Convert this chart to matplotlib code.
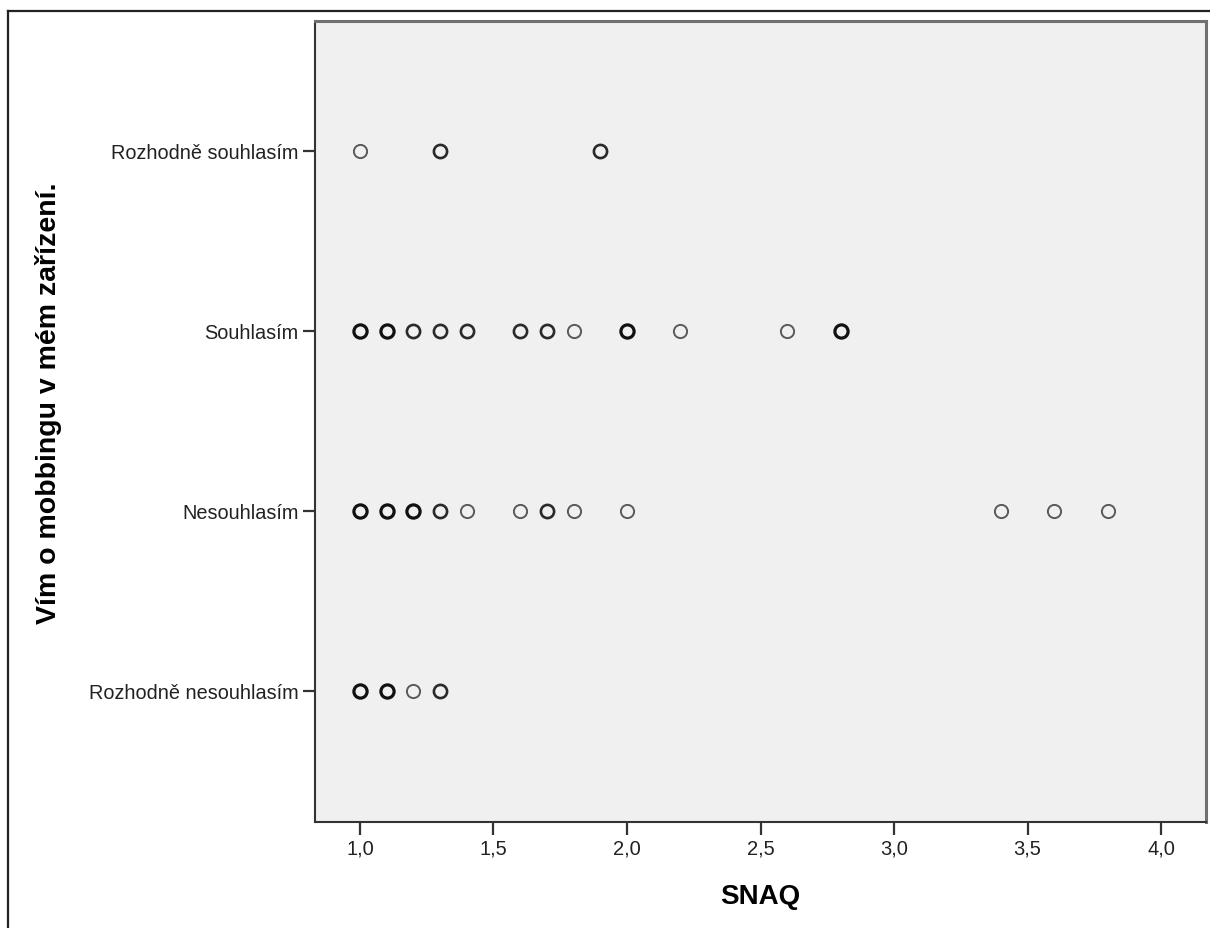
import matplotlib.pyplot as plt
from matplotlib.lines import Line2D
from collections import Counter

plt.rcParams['font.family'] = ['Liberation Sans', 'DejaVu Sans']

# answer categories, bottom to top
categories = ['Rozhodně nesouhlasím', 'Nesouhlasím', 'Souhlasím', 'Rozhodně souhlasím']

# SNAQ scores of the respondents in each answer group (repeats = overlapping cases)
snaq_rozhodne_nesouhlasim = [1.0, 1.0, 1.0, 1.1, 1.1, 1.1, 1.2, 1.3, 1.3]
snaq_nesouhlasim = [1.0, 1.0, 1.0, 1.1, 1.1, 1.1, 1.2, 1.2, 1.2, 1.3, 1.3, 1.4,
                    1.6, 1.7, 1.7, 1.8, 2.0, 3.4, 3.6, 3.8]
snaq_souhlasim = [1.0, 1.0, 1.0, 1.1, 1.1, 1.1, 1.2, 1.2, 1.3, 1.3, 1.4, 1.4,
                  1.6, 1.6, 1.7, 1.7, 1.8, 2.0, 2.0, 2.0, 2.2, 2.6, 2.8, 2.8, 2.8]
snaq_rozhodne_souhlasim = [1.0, 1.3, 1.3, 1.9, 1.9]

groups = [snaq_rozhodne_nesouhlasim, snaq_nesouhlasim, snaq_souhlasim, snaq_rozhodne_souhlasim]

x_ticks = [1.0, 1.5, 2.0, 2.5, 3.0, 3.5, 4.0]
x_ticklabels = ['1,0', '1,5', '2,0', '2,5', '3,0', '3,5', '4,0']

fig = plt.figure(figsize=(12.1, 9.29), dpi=100)
ax = fig.add_axes([315 / 1210, 1 - 823 / 929, 891 / 1210, 801 / 929])
ax.set_facecolor('#f0f0f0')

# overlapping cases make the ring darker and heavier
for level, values in enumerate(groups, start=1):
    for val, n in sorted(Counter(values).items()):
        shade = {1: '#5a5a5a', 2: '#2a2a2a'}.get(n, '#111111')
        lw = {1: 1.4, 2: 1.9}.get(n, 2.3)
        ax.plot([val], [level], 'o', ms=9.5, mfc='none', mec=shade, mew=lw)

ax.set_xlim(0.8315, 4.1685)
ax.set_ylim(0.272, 4.722)
ax.set_yticks(range(1, len(categories) + 1))
ax.set_yticklabels(categories, fontsize=14.3, color='#222222')
ax.set_xticks(x_ticks)
ax.set_xticklabels(x_ticklabels, fontsize=14.5, color='#222222')
ax.tick_params(axis='both', length=9, width=1.6, color='#333333', pad=3)

for side in ['left', 'bottom']:
    ax.spines[side].set_color('#333333')
    ax.spines[side].set_linewidth(1.5)
for side in ['top', 'right']:
    ax.spines[side].set_color('#707070')
    ax.spines[side].set_linewidth(2.2)

ax.set_xlabel('SNAQ', fontsize=20, fontweight='bold', labelpad=18)
ax.set_ylabel('Vím o mobbingu v mém zařízení.', fontsize=20.5, fontweight='bold')
ax.yaxis.set_label_coords(-0.284, 0.524)

# outer chart frame, clipped by the page on the right and bottom
fig.add_artist(Line2D([8 / 1210, 1], [1 - 12 / 929] * 2, transform=fig.transFigure,
                      color='#222222', lw=1.6))
fig.add_artist(Line2D([8 / 1210] * 2, [0, 1 - 12 / 929], transform=fig.transFigure,
                      color='#222222', lw=1.6))

fig.savefig('out.png', dpi=100)
